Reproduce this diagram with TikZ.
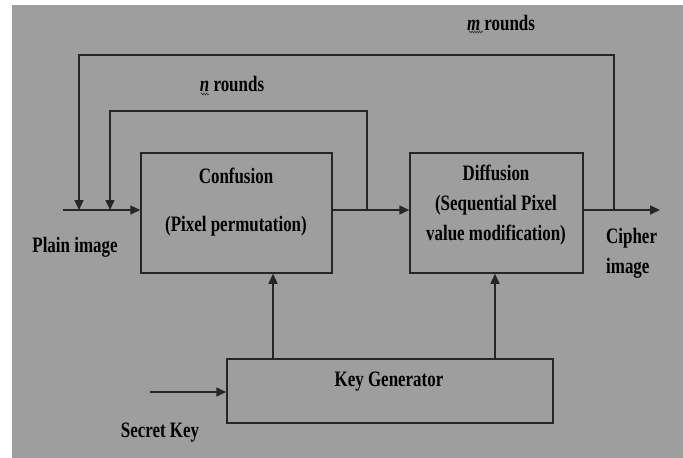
\documentclass[tikz,border=0pt]{standalone}
\usepackage{fontspec}
\setmainfont{Liberation Serif}[FakeStretch=0.77]
\usetikzlibrary{arrows.meta,decorations.pathmorphing}
\definecolor{bggray}{HTML}{9E9E9E}
\definecolor{ink}{HTML}{262626}
\begin{document}
\begin{tikzpicture}[x=1pt,y=-1pt,
  box/.style={draw=ink,line width=1.5pt,rectangle,inner sep=0pt},
  conn/.style={draw=ink,line width=1.5pt},
  arr/.style={conn,-{Triangle[length=10pt,width=9pt]}},
  lbl/.style={font=\fontsize{22}{30}\selectfont\bfseries,text=black,inner sep=0pt,align=center},
  squig/.style={draw=ink,line width=0.5pt,decorate,decoration={zigzag,amplitude=1pt,segment length=2.5pt}}]
\useasboundingbox (0,0) rectangle (683,458);
\fill[white] (0,0) rectangle (683,458);
\fill[bggray] (12,5) rectangle (683,458);
% boxes
\node[box,minimum width=191pt,minimum height=120pt] (conf) at (236.5,213) {};
\node[box,minimum width=173pt,minimum height=120pt] (diff) at (496.5,213) {};
\node[box,minimum width=326pt,minimum height=64pt] (keygen) at (390,391) {};
% texts
\node[lbl] (conft) at (236,176) {Confusion};
\node[lbl] (confs) at (236,226) {(Pixel permutation)};
\node[lbl] (difft) at (496,205) {Diffusion\\(Sequential Pixel\\value modification)};
\node[lbl] (keyt) at (389,382) {Key Generator};
\node[lbl] (plain) at (75,247) {Plain image};
\node[lbl,align=left,anchor=west] (cipher) at (606,253) {Cipher\\image};
\node[lbl] (secret) at (160,433) {Secret Key};
\node[lbl] (mr) at (501,23) {\textit{m} rounds};
\node[lbl] (nr) at (232,84) {\textit{n} rounds};
\draw[squig] (469,32) -- (483,32);
\draw[squig] (201,94) -- (209,94);
% coordinates
\coordinate (pin) at (63,210);
\coordinate (pout) at (660,210);
\coordinate (ib) at (367,210);
\coordinate (ob) at (614,210);
\coordinate (il) at (110,210);
\coordinate (ol) at (79,210);
\coordinate (itop) at (110,111);
\coordinate (otop) at (79,55);
\coordinate (k1) at (273,0);
\coordinate (k2) at (495,0);
\coordinate (sk) at (150,392);
% connectors
\draw[arr] (pin) -- (pin -| conf.west);
\draw[arr] (pin -| conf.east) -- (pin -| diff.west);
\draw[arr] (pin -| diff.east) -- (pout);
\draw[arr] (ib) -- (ib |- itop) -| (il);
\draw[arr] (ob) -- (ob |- otop) -| (ol);
\draw[arr] (keygen.north -| k1) -- (conf.south -| k1);
\draw[arr] (keygen.north -| k2) -- (diff.south -| k2);
\draw[arr] (sk) -- (sk -| keygen.west);
\end{tikzpicture}
\end{document}
